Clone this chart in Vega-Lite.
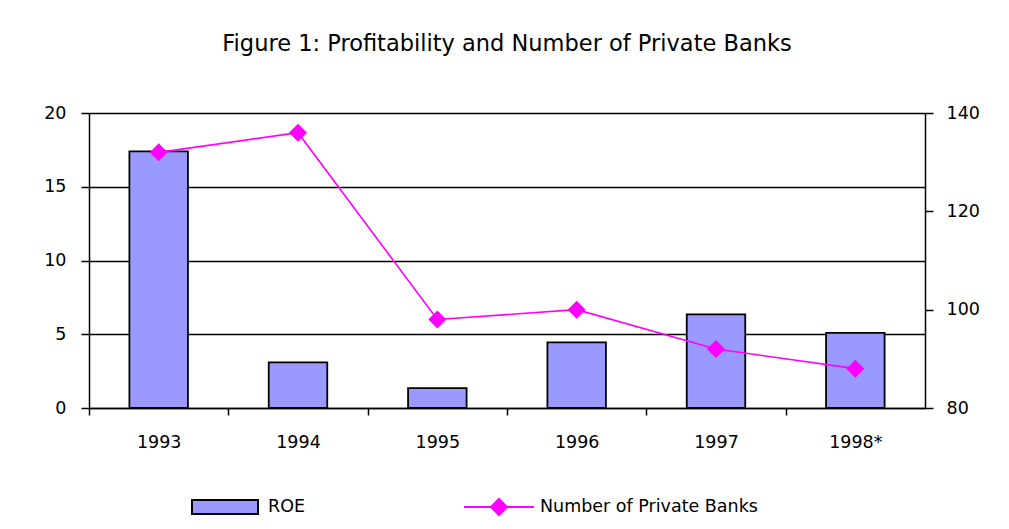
{
  "$schema": "https://vega.github.io/schema/vega-lite/v6.json",
  "autosize": "none",
  "width": 836,
  "height": 295,
  "padding": {"left": 89, "top": 113, "right": 84, "bottom": 121},
  "background": "white",
  "config": {
    "font": "DejaVu Sans",
    "view": {"stroke": null},
    "axis": {"labelFont": "DejaVu Sans", "labelFontSize": 17.5, "labelColor": "black", "domainColor": "black", "tickColor": "black", "domainWidth": 1.5, "tickWidth": 1.5, "titleFontSize": 0},
    "legend": {"labelFont": "DejaVu Sans", "labelFontSize": 17.5, "labelColor": "black", "labelLimit": 400, "padding": 0, "orient": "none", "symbolSize": 4900, "labelOffset": 5}
  },
  "title": {
    "text": "Figure 1: Profitability and  Number of Private Banks",
    "font": "DejaVu Sans",
    "fontSize": 22.5,
    "fontWeight": "normal",
    "color": "black",
    "anchor": "middle",
    "offset": 49
  },
  "data": {
    "values": [
      {"year": "1993", "series": "ROE", "value": 17.4},
      {"year": "1994", "series": "ROE", "value": 3.1},
      {"year": "1995", "series": "ROE", "value": 1.35},
      {"year": "1996", "series": "ROE", "value": 4.45},
      {"year": "1997", "series": "ROE", "value": 6.35},
      {"year": "1998*", "series": "ROE", "value": 5.1},
      {"year": "1993", "series": "Number of  Private Banks", "value": 132},
      {"year": "1994", "series": "Number of  Private Banks", "value": 136},
      {"year": "1995", "series": "Number of  Private Banks", "value": 98},
      {"year": "1996", "series": "Number of  Private Banks", "value": 100},
      {"year": "1997", "series": "Number of  Private Banks", "value": 92},
      {"year": "1998*", "series": "Number of  Private Banks", "value": 88}
    ]
  },
  "encoding": {
    "x": {
      "field": "year",
      "type": "ordinal",
      "sort": null,
      "scale": {"paddingInner": 0.58, "paddingOuter": 0.29},
      "axis": {
        "title": null,
        "labelAngle": 0,
        "bandPosition": 0,
        "tickOffset": -40.4,
        "labelOffset": 40.4,
        "tickSize": 7,
        "labelPadding": 18,
        "grid": false
      }
    }
  },
  "layer": [
    {
      "transform": [{"filter": "datum.series === 'ROE'"}],
      "mark": {"type": "bar", "stroke": "black", "strokeWidth": 1.8, "opacity": 1},
      "encoding": {
        "y": {
          "field": "value",
          "type": "quantitative",
          "scale": {"domain": [0, 20], "nice": false},
          "axis": {
            "title": null,
            "orient": "left",
            "values": [0, 5, 10, 15, 20],
            "grid": true,
            "gridColor": "black",
            "gridWidth": 1.5,
            "gridOpacity": 1,
            "tickSize": 8,
            "labelPadding": 15
          }
        },
        "fill": {
          "field": "series",
          "type": "nominal",
          "scale": {"domain": ["ROE"], "range": ["#9999ff"]},
          "legend": {
            "title": null,
            "legendX": 102,
            "legendY": 358,
            "symbolType": "M-1,-0.2H0.886V0.2H-1Z",
            "symbolStrokeColor": "black",
            "symbolStrokeWidth": 2,
            "encode": {
              "symbols": {
                "update": {
                  "stroke": {"value": "black"},
                  "strokeWidth": {"value": 2},
                  "fill": {"value": "#9999ff"},
                  "opacity": {"value": 1},
                  "fillOpacity": {"value": 1},
                  "strokeOpacity": {"value": 1}
                }
              }
            }
          }
        }
      }
    },
    {
      "transform": [{"filter": "datum.series !== 'ROE'"}],
      "mark": {"type": "line", "strokeWidth": 1.6, "point": {"shape": "diamond", "size": 230, "filled": true, "color": "#ff00ff", "opacity": 1}},
      "encoding": {
        "y": {
          "field": "value",
          "type": "quantitative",
          "scale": {"domain": [80, 140], "nice": false, "zero": false},
          "axis": {
            "title": null,
            "orient": "right",
            "values": [80, 100, 120, 140],
            "grid": false,
            "tickSize": 8,
            "labelPadding": 13
          }
        },
        "stroke": {
          "field": "series",
          "type": "nominal",
          "scale": {"domain": ["Number of  Private Banks"], "range": ["#ff00ff"]},
          "legend": {
            "title": null,
            "legendX": 374,
            "legendY": 358,
            "symbolType": "M-1,0H1M0,-0.23L0.23,0L0,0.23L-0.23,0Z",
            "encode": {
              "symbols": {
                "update": {
                  "stroke": {"value": "#ff00ff"},
                  "strokeWidth": {"value": 2},
                  "fill": {"value": "#ff00ff"},
                  "opacity": {"value": 1},
                  "fillOpacity": {"value": 1},
                  "strokeOpacity": {"value": 1}
                }
              }
            }
          }
        }
      }
    }
  ],
  "resolve": {"scale": {"y": "independent"}}
}
